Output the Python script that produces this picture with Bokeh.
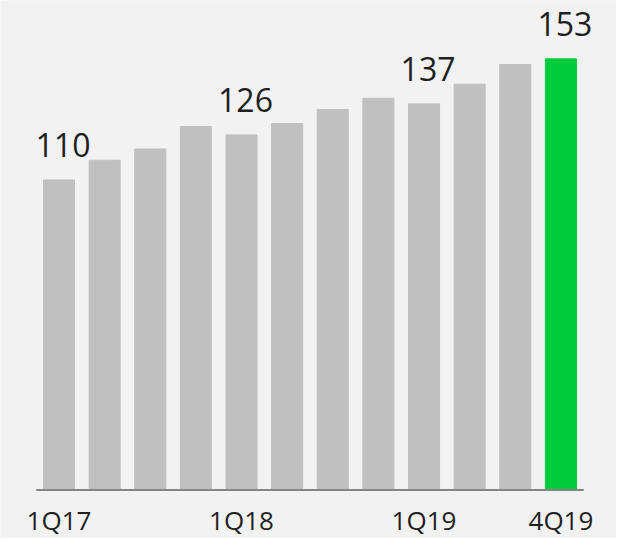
from bokeh.plotting import figure
from bokeh.models import ColumnDataSource, Range1d
from bokeh.embed import file_html
from bokeh.resources import INLINE
from bokeh.core.properties import value

quarters = ["1Q17", "2Q17", "3Q17", "4Q17", "1Q18", "2Q18", "3Q18", "4Q18",
            "1Q19", "2Q19", "3Q19", "4Q19"]
values = [110, 117, 121, 129, 126, 130, 135, 139, 137, 144, 151, 153]
labelled = ["1Q17", "1Q18", "1Q19", "4Q19"]

GREY = "#c0c0c0"
GREEN = "#00cc3d"
BG = "#f2f2f2"
TEXT = "#1f1f1f"

n = len(quarters)
xs = list(range(n))
colors = [GREEN if i == n - 1 else GREY for i in xs]
bars = ColumnDataSource(dict(x=xs, top=values, color=colors))

idx = [quarters.index(q) for q in labelled]
labels = ColumnDataSource(dict(
    x=idx,
    top=[values[i] for i in idx],
    vtext=[str(values[i]) for i in idx],
    qtext=[quarters[i] for i in idx],
    zero=[0] * len(idx),
))

W, H = 616, 538
p = figure(width=W, height=H, output_backend="svg", toolbar_location=None,
           x_range=Range1d(-1.282, 12.218), y_range=Range1d(-17.25, 173.7),
           min_border=0)
p.background_fill_color = BG
p.border_fill_color = BG
p.outline_line_color = None
p.grid.visible = False
p.axis.visible = False

p.vbar(x="x", top="top", width=0.68, bottom=0, color="color", source=bars)
p.segment(x0=[-0.5], y0=[0], x1=[n - 0.5], y1=[0], line_color="#858585", line_width=2)

p.text(x="x", y="top", text="vtext", source=labels, text_align="center",
       text_baseline="middle", y_offset=-35, x_offset=4,
       text_font=value("Open Sans"), text_font_size="32px", text_color=TEXT)
p.text(x="x", y="zero", text="qtext", source=labels, text_align="center",
       text_baseline="middle", y_offset=30,
       text_font=value("Open Sans"), text_font_size="26px", text_color=TEXT)

open("out.html", "w").write(file_html(p, INLINE))
